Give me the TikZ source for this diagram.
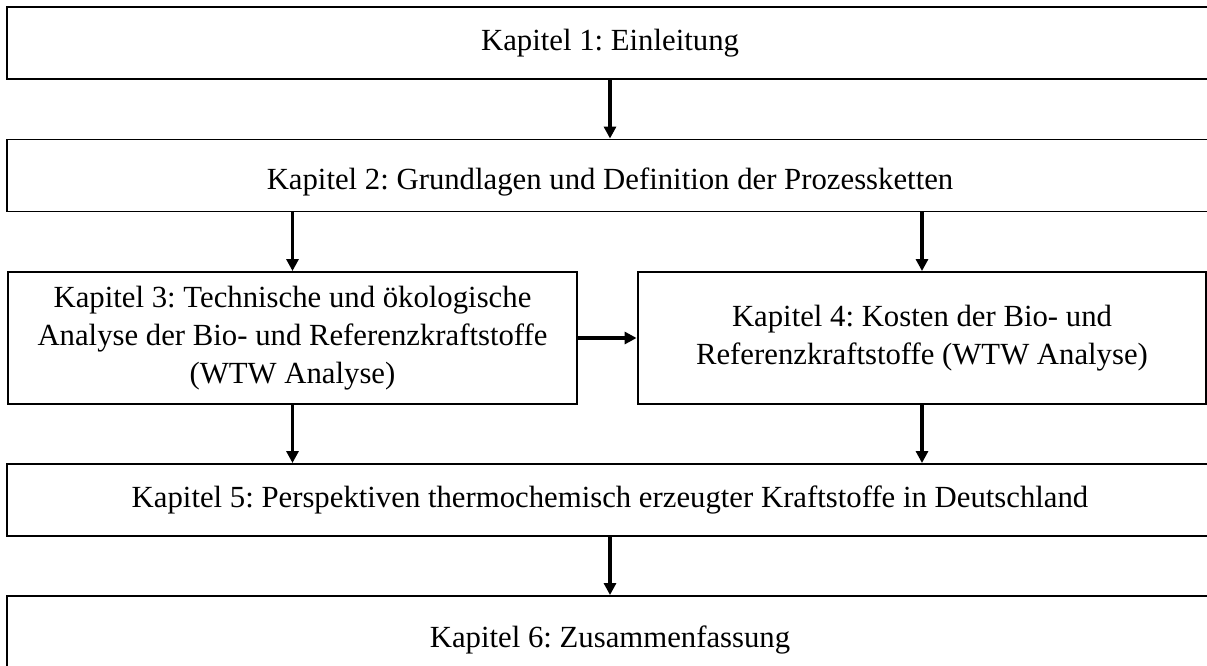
\documentclass[tikz,border=0pt]{standalone}
\usepackage{fontspec}
\setmainfont{Liberation Serif}
\usepackage{tikz}
\usetikzlibrary{positioning, arrows.meta}
\frenchspacing

\begin{document}
\begin{tikzpicture}[x=0.02cm, y=-0.02cm,
    font=\fontsize{17.5}{21.6}\selectfont,
    kapitel/.style={draw, line width=1.1pt, align=center, inner sep=0pt},
    breit/.style={kapitel, minimum width=24.12cm, minimum height=1.44cm},
    halb/.style={kapitel, minimum width=11.38cm, minimum height=2.64cm},
    pfeil/.style={line width=2pt, -{Triangle[length=0.24cm, width=0.24cm]}}]
  \clip (0,0) rectangle (1207,666);
  \node[breit] (k1) at (610,43) {Kapitel 1: Einleitung};
  \node[breit, text height=0.7cm, text depth=0.12cm] (k2) at (610,175.5) {Kapitel 2: Grundlagen und Definition der Prozessketten};
  \node[halb] (k3) at (292.5,338) {Kapitel 3: Technische und ökologische\\Analyse der Bio- und Referenzkraftstoffe\\(WTW Analyse)};
  \node[halb] (k4) at (922,338) {Kapitel 4: Kosten der Bio- und\\Referenzkraftstoffe (WTW Analyse)};
  \node[breit] (k5) at (610,500) {Kapitel 5: Perspektiven thermochemisch erzeugter Kraftstoffe in Deutschland};
  \node[breit, minimum height=1.76cm] (k6) at (610,640) {Kapitel 6: Zusammenfassung};
  \draw[pfeil] (k1) -- (k2);
  \draw[pfeil] (k2.south -| k3.north) -- (k3);
  \draw[pfeil] (k2.south -| k4.north) -- (k4);
  \draw[pfeil] (k3) -- (k4);
  \draw[pfeil] (k3) -- (k3.south |- k5.north);
  \draw[pfeil] (k4) -- (k4.south |- k5.north);
  \draw[pfeil] (k5) -- (k6);
\end{tikzpicture}
\end{document}
